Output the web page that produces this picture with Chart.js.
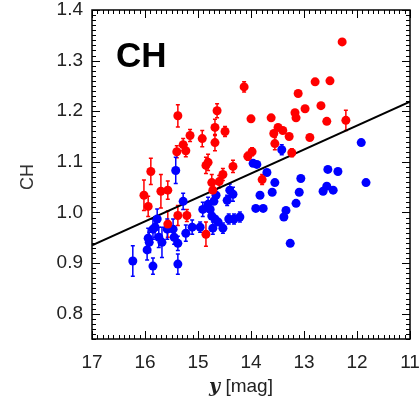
<!DOCTYPE html>
<html>
<head>
<meta charset="utf-8">
<script src="https://cdn.jsdelivr.net/npm/chart.js@4/dist/chart.umd.min.js"></script>
<style>
  html, body { margin: 0; padding: 0; background: #fff; }
  #wrap { width: 419px; height: 404px; }
</style>
</head>
<body>
<div id="wrap"><canvas id="chart"></canvas></div>
<script>
// tick labels
const xTicks = [17, 16, 15, 14, 13, 12, 11];
const yTicks = [0.8, 0.9, 1.0, 1.1, 1.2, 1.3, 1.4];

// red stars (y mag, CH index, error)
const redMag = [12.28, 14.13, 12.79, 12.51, 13.11, 12.68, 12.98, 13.17, 13.15, 13.62,
  14.00, 14.64, 15.38, 12.57, 12.21, 14.68, 14.49, 15.15, 14.92, 13.57,
  13.49, 13.40, 13.28, 12.89, 14.68, 15.40, 15.28, 15.23, 15.89, 16.02,
  15.94, 15.70, 15.57, 14.85, 14.81, 14.74, 14.60, 14.53, 14.34, 14.06,
  13.98, 13.55, 13.23, 13.79, 15.38, 15.21, 15.57, 14.85, 14.72];
const redCH = [1.337, 1.248, 1.258, 1.260, 1.235, 1.211, 1.205, 1.197, 1.187, 1.187,
  1.185, 1.201, 1.191, 1.180, 1.182, 1.168, 1.160, 1.152, 1.146, 1.156,
  1.168, 1.162, 1.150, 1.148, 1.138, 1.120, 1.134, 1.122, 1.081, 1.034,
  1.012, 1.042, 1.044, 1.093, 1.099, 1.059, 1.061, 1.075, 1.091, 1.111,
  1.120, 1.136, 1.118, 1.065, 0.994, 0.994, 0.977, 0.957, 1.044];
const redErr = [0, 0.010, 0, 0, 0, 0, 0.006, 0, 0, 0,
  0.006, 0.014, 0.022, 0, 0.020, 0.016, 0.010, 0.012, 0.016, 0,
  0, 0, 0, 0, 0.016, 0.012, 0.012, 0.012, 0.026, 0.030,
  0.020, 0.033, 0.018, 0.016, 0.016, 0.016, 0.012, 0.012, 0.012, 0.008,
  0.008, 0.012, 0.008, 0.010, 0.020, 0.012, 0.026, 0.024, 0.016];

// blue stars
const blueMag = [11.92, 11.83, 12.55, 12.36, 12.64, 12.57, 12.45, 13.06, 13.09, 13.15,
  13.34, 13.38, 13.26, 13.55, 13.60, 13.70, 13.42, 13.96, 13.89, 13.83,
  13.91, 13.77, 14.21, 14.32, 14.42, 14.53, 14.34, 14.40, 14.45, 14.66,
  14.70, 14.81, 14.77, 14.91, 14.74, 14.68, 14.72, 14.62, 15.11, 15.23,
  15.28, 15.42, 15.47, 15.45, 15.38, 15.38, 15.58, 15.68, 15.77, 15.81,
  15.94, 15.92, 15.96, 15.85, 16.23, 15.74, 15.85, 14.96];
const blueCH = [1.138, 1.059, 1.085, 1.081, 1.042, 1.052, 1.044, 1.067, 1.040, 1.018,
  1.004, 0.991, 0.939, 1.059, 1.040, 1.079, 1.124, 1.097, 1.095, 1.034,
  1.008, 1.008, 0.991, 0.987, 0.987, 0.969, 1.036, 1.044, 1.024, 1.034,
  1.022, 1.016, 1.006, 1.006, 0.993, 0.987, 0.969, 0.981, 0.971, 0.959,
  1.022, 1.083, 0.967, 0.951, 0.939, 0.898, 0.967, 0.941, 0.987, 0.971,
  0.949, 0.941, 0.926, 0.894, 0.904, 0.951, 0.967, 0.971];
const blueErr = [0, 0, 0, 0, 0, 0, 0, 0, 0, 0,
  0, 0, 0, 0, 0, 0, 0.010, 0, 0, 0,
  0, 0, 0.010, 0.010, 0.010, 0.010, 0.014, 0.012, 0.010, 0.012,
  0, 0.014, 0, 0.014, 0, 0, 0.012, 0, 0.014, 0.016,
  0.016, 0.026, 0.020, 0.014, 0.014, 0.020, 0.020, 0.030, 0.020, 0.020,
  0.020, 0.020, 0.020, 0.016, 0.030, 0.020, 0.020, 0.010];

// linear fit
const fitMag = [17, 11];
const fitCH = [0.935, 1.219];

const pts = (xs, ys) => xs.map((x, i) => ({ x: x, y: ys[i] }));

const boxPlugin = {
  id: 'boxPlugin',
  beforeDatasetsDraw(chart) {
    const ctx = chart.ctx;
    const xs = chart.scales.x, ys = chart.scales.y;
    chart.data.datasets.forEach(ds => {
      if (!ds.errs) return;
      ctx.save();
      ctx.strokeStyle = ds.backgroundColor;
      ctx.lineWidth = 1.5;
      ds.data.forEach((p, i) => {
        const e = ds.errs[i];
        if (!e) return;
        const px = xs.getPixelForValue(p.x);
        const y1 = ys.getPixelForValue(p.y - e), y2 = ys.getPixelForValue(p.y + e);
        ctx.beginPath();
        ctx.moveTo(px, y1); ctx.lineTo(px, y2);
        ctx.moveTo(px - 2, y1); ctx.lineTo(px + 2, y1);
        ctx.moveTo(px - 2, y2); ctx.lineTo(px + 2, y2);
        ctx.stroke();
      });
      ctx.restore();
    });
  },
  afterDraw(chart) {
    const ctx = chart.ctx;
    const a = chart.chartArea;
    const xs = chart.scales.x, ys = chart.scales.y;
    ctx.save();
    ctx.strokeStyle = '#000';
    ctx.lineWidth = 1.5;
    ctx.strokeRect(a.left, a.top, a.right - a.left, a.bottom - a.top);
    ctx.lineWidth = 1;
    ctx.beginPath();
    // x ticks, bottom and top
    for (let k = 0; k <= 60; k++) {
      const v = 11 + k / 10;
      const px = Math.round(xs.getPixelForValue(v)) + 0.5;
      const len = (k % 10 === 0) ? 8 : 4;
      ctx.moveTo(px, a.bottom); ctx.lineTo(px, a.bottom - len);
      ctx.moveTo(px, a.top); ctx.lineTo(px, a.top + len);
    }
    // y ticks, left and right
    for (let k = 0; k <= 65; k++) {
      const v = 0.75 + k / 100;
      const py = Math.round(ys.getPixelForValue(v)) + 0.5;
      const len = ((k + 5) % 10 === 0) ? 8 : 4;
      ctx.moveTo(a.left, py); ctx.lineTo(a.left + len, py);
      ctx.moveTo(a.right, py); ctx.lineTo(a.right - len, py);
    }
    ctx.stroke();

    // panel label
    ctx.fillStyle = '#000';
    ctx.font = 'bold 35px "Liberation Sans", Arial, sans-serif';
    ctx.textBaseline = 'alphabetic';
    ctx.textAlign = 'left';
    ctx.fillText('CH', 116, 67);

    // y title
    ctx.fillStyle = '#333';
    ctx.font = '18px "Liberation Sans", Arial, sans-serif';
    ctx.save();
    ctx.translate(33, 177);
    ctx.rotate(-Math.PI / 2);
    ctx.textAlign = 'center';
    ctx.fillText('CH', 0, 0);
    ctx.restore();

    // x title with italic y
    const f1 = 'italic bold 19px "DejaVu Serif", serif';
    const f2 = '19px "Liberation Sans", Arial, sans-serif';
    ctx.font = f1; const w1 = ctx.measureText('y').width;
    ctx.font = f2; const w2 = ctx.measureText(' [mag]').width;
    let x0 = 241 - (w1 + w2) / 2;
    ctx.textAlign = 'left';
    ctx.fillStyle = '#222';
    ctx.font = f1; ctx.fillText('y', x0, 392);
    ctx.font = f2; ctx.fillText(' [mag]', x0 + w1, 392);
    ctx.restore();
  }
};

new Chart(document.getElementById('chart'), {
  type: 'scatter',
  data: {
    datasets: [
      {
        label: 'red', data: pts(redMag, redCH), errs: redErr,
        backgroundColor: '#ff0000', borderColor: '#ff0000',
        pointRadius: 4.5, pointBorderWidth: 0
      },
      {
        label: 'blue', data: pts(blueMag, blueCH), errs: blueErr,
        backgroundColor: '#0000ff', borderColor: '#0000ff',
        pointRadius: 4.5, pointBorderWidth: 0
      },
      {
        type: 'line', label: 'fit', data: pts(fitMag, fitCH),
        borderColor: '#000', borderWidth: 2, pointRadius: 0, fill: false
      }
    ]
  },
  options: {
    responsive: true,
    maintainAspectRatio: false,
    animation: false,
    events: [],
    layout: { padding: { top: 10, right: 9, left: 0, bottom: 0 } },
    plugins: { legend: { display: false }, tooltip: { enabled: false } },
    scales: {
      x: {
        type: 'linear', min: 11, max: 17, reverse: true,
        grid: { display: false, drawTicks: false },
        border: { display: false },
        afterBuildTicks: s => { s.ticks = xTicks.map(v => ({ value: v })); },
        afterFit: s => { s.height = 65; s.paddingLeft = 0; s.paddingRight = 0; },
        ticks: {
          color: '#222', padding: 12,
          font: { family: '"Liberation Sans", Arial, sans-serif', size: 19 },
          maxRotation: 0, autoSkip: false,
          callback: v => String(v)
        }
      },
      y: {
        type: 'linear', min: 0.75, max: 1.4,
        grid: { display: false, drawTicks: false },
        border: { display: false },
        afterBuildTicks: s => { s.ticks = yTicks.map(v => ({ value: v })); },
        afterFit: s => { s.width = 92; s.paddingTop = 0; s.paddingBottom = 0; },
        ticks: {
          color: '#222', padding: 9,
          font: { family: '"Liberation Sans", Arial, sans-serif', size: 19 },
          autoSkip: false,
          callback: v => v.toFixed(1)
        }
      }
    }
  },
  plugins: [boxPlugin]
});
</script>
</body>
</html>
